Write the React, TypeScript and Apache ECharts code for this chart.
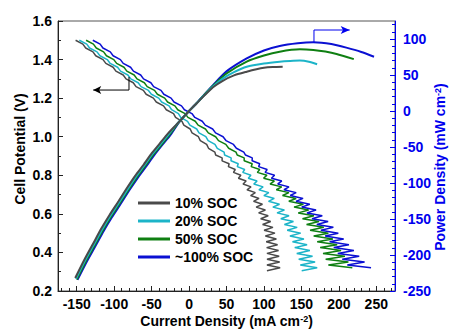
import React, { useEffect, useRef } from 'react';
import * as echarts from 'echarts';

const FONT = '"Liberation Sans", Arial, Helvetica, sans-serif';

const seriesNames = ['10% SOC', '20% SOC', '50% SOC', '~100% SOC'];
const colors = ['#4a4a4a', '#1cb4c8', '#0f7f12', '#0b10d2'];

const xTicks = [-150, -100, -50, 0, 50, 100, 150, 200, 250];
const xMinor = [-170, -160, -140, -130, -120, -110, -90, -80, -70, -60, -40, -30, -20, -10, 10, 20, 30, 40, 60, 70, 80, 90, 110, 120, 130, 140, 160, 170, 180, 190, 210, 220, 230, 240, 260, 270];
const yRightTicks = [-250, -200, -150, -100, -50, 0, 50, 100];
const yRightMinor = [-240, -230, -220, -210, -190, -180, -170, -160, -140, -130, -120, -110, -90, -80, -70, -60, -40, -30, -20, -10, 10, 20, 30, 40, 60, 70, 80, 90, 110, 120];

// Cell potential (V) vs current density (mA cm-2)
const pol10 = [[-151.5,1.50],[-141.8,1.48],[-138,1.46],[-128.3,1.44],[-124.6,1.42],[-114.9,1.40],[-111.1,1.38],[-101.4,1.36],[-97.7,1.34],[-87.9,1.32],[-84.2,1.30],[-74.5,1.28],[-70.8,1.26],[-61,1.24],[-57.3,1.22],[-47.6,1.20],[-43.8,1.18],[-34.1,1.16],[-30.4,1.14],[-20.7,1.12],[-18,1.10],[-9.5,1.08],[-7,1.06],[1.5,1.04],[4,1.02],[12.5,1.00],[15,0.98],[23.5,0.96],[26,0.94],[34.5,0.92],
[35.5,0.905],[44.2,0.89],[44.1,0.875],[53.5,0.86],[52.5,0.845],[61.7,0.83],[59.3,0.815],[69.2,0.80],[65.9,0.785],[76.2,0.77],[72.1,0.755],[82.7,0.74],[77.4,0.725],[88.5,0.71],[82.2,0.695],[93.4,0.68],[86.1,0.665],[98,0.65],[89.6,0.635],[101.9,0.62],[92.9,0.605],[105.7,0.59],[95.6,0.575],[109,0.56],[98.2,0.545],[112,0.53],[100.2,0.515],[114.7,0.50],[101.9,0.485],[116.6,0.47],[103,0.455],[118.2,0.44],[103.6,0.425],[119.5,0.41],[104,0.395],[120.3,0.38],[104.1,0.365],[121,0.35],[104,0.335],[121.6,0.32],[104,0.305]];

const pol20 = [[-146.5,1.50],[-136.6,1.48],[-132.8,1.46],[-122.9,1.44],[-119,1.42],[-109.2,1.40],[-105.3,1.38],[-95.4,1.36],[-91.5,1.34],[-81.7,1.32],[-77.8,1.30],[-67.9,1.28],[-64.1,1.26],[-54.2,1.24],[-50.3,1.22],[-40.5,1.20],[-36.6,1.18],[-26.7,1.16],[-23.3,1.14],[-14.2,1.12],[-11.1,1.10],[-2,1.08],[1.1,1.06],[10.2,1.04],[13.3,1.02],[22.4,1.00],[25.5,0.98],[34.6,0.96],[37.7,0.94],[46.8,0.92],
[47.5,0.905],[56.2,0.89],[56,0.875],[65.7,0.86],[64.4,0.845],[74.3,0.83],[71.7,0.815],[82.6,0.80],[79.1,0.785],[90.8,0.77],[86.4,0.755],[98.9,0.74],[93.3,0.725],[106.5,0.71],[99.9,0.695],[113.8,0.68],[106.1,0.665],[120.8,0.65],[111.9,0.635],[127.3,0.62],[117.5,0.605],[133.5,0.59],[122.5,0.575],[139.4,0.56],[127.3,0.545],[144.4,0.53],[131,0.515],[149.1,0.50],[134.7,0.485],[153.4,0.47],[138.1,0.455],[157.6,0.44],[141.1,0.425],[161.3,0.41],[143.8,0.395],[164.9,0.38],[146.4,0.365],[168.3,0.35],[148.5,0.335],[171.1,0.32],[150.4,0.305]];

const pol50 = [[-137.5,1.50],[-127.7,1.48],[-123.9,1.46],[-114.1,1.44],[-110.3,1.42],[-100.5,1.40],[-96.7,1.38],[-86.9,1.36],[-83.1,1.34],[-73.3,1.32],[-69.5,1.30],[-59.7,1.28],[-55.9,1.26],[-46.1,1.24],[-42.3,1.22],[-32.5,1.20],[-28.7,1.18],[-18.9,1.16],[-15.1,1.14],[-5.3,1.12],[-1.5,1.10],[8.3,1.08],[12.1,1.06],[21.9,1.04],[25.7,1.02],[35.5,1.00],[39.3,0.98],[49.1,0.96],[52.9,0.94],[62.7,0.92],
[64.3,0.905],[73.6,0.89],[73.6,0.875],[84.4,0.86],[82.9,0.845],[94.4,0.83],[91.2,0.815],[104,0.80],[99.6,0.785],[113.9,0.77],[108.2,0.755],[123.7,0.74],[116.5,0.725],[133.3,0.71],[124.8,0.695],[143,0.68],[133.2,0.665],[152.7,0.65],[140.2,0.635],[159.7,0.62],[145.8,0.605],[166.7,0.59],[151.5,0.575],[173.6,0.56],[156.9,0.545],[179.9,0.53],[161.6,0.515],[186,0.50],[166.4,0.485],[192.1,0.47],[171.1,0.455],[197.8,0.44],[175.1,0.425],[203,0.41],[178.9,0.395],[208.1,0.38],[182.4,0.365],[212.8,0.35],[186,0.335],[218,0.32]];

const pol100 = [[-128.5,1.50],[-118.7,1.48],[-115,1.46],[-105.2,1.44],[-101.4,1.42],[-91.7,1.40],[-87.9,1.38],[-78.1,1.36],[-74.3,1.34],[-64.6,1.32],[-60.8,1.30],[-51,1.28],[-47.3,1.26],[-37.5,1.24],[-33.7,1.22],[-24,1.20],[-20.1,1.18],[-10.1,1.16],[-6.2,1.14],[3.8,1.12],[7.7,1.10],[17.6,1.08],[21.6,1.06],[31.5,1.04],[35.4,1.02],[45.4,1.00],[49.3,0.98],[59.3,0.96],[63.2,0.94],[73.1,0.92],
[75.4,0.905],[84.4,0.89],[84.2,0.875],[94.4,0.86],[92.9,0.845],[104.3,0.83],[101.6,0.815],[114.2,0.80],[110,0.785],[123.8,0.77],[118.4,0.755],[133.4,0.74],[126.8,0.725],[143,0.71],[135.1,0.695],[152.2,0.68],[142.9,0.665],[161.2,0.65],[150.4,0.635],[169.6,0.62],[157.5,0.605],[177.9,0.59],[164.2,0.575],[185.7,0.56],[170.6,0.545],[192.7,0.53],[176,0.515],[199.3,0.50],[181.7,0.485],[206.5,0.47],[187.7,0.455],[213.5,0.44],[193.2,0.425],[220.1,0.41],[198.6,0.395],[227.2,0.38],[204.6,0.365],[234.4,0.35],[211.3,0.335],[243,0.32]];

// Power density (mW cm-2) vs current density (mA cm-2)
const pow10 = [[-152,-232],[-140,-207],[-128,-184],[-117,-163],[-106,-144],[-94,-125],[-83,-107],[-72,-90],[-61,-75],[-50,-59],[-39,-45],[-28,-31],[-17,-19],[-8,-9],[0,0],[10,10.5],[20,21],[32,33],[45,42],[60,49.5],[77,54.6],[90,58],[100,60],[112,61],[125,61.5]];
const pow20 = [[-151,-233],[-139,-208],[-127,-185.5],[-116,-164.5],[-105,-145.5],[-93,-126.5],[-82,-108.5],[-71,-91.5],[-60,-76],[-49,-60],[-38,-46],[-27,-32],[-16,-18],[-7,-7.7],[0,0],[10,10.6],[20,21.5],[32,34],[45,45],[60,54],[77,61.5],[100,66],[121,68.5],[135,69.5],[148,70],[160,68.5],[171,65]];
const pow50 = [[-150,-234],[-138,-209],[-126,-186.5],[-115,-165.5],[-104,-146.5],[-92,-127.5],[-81,-109.5],[-70,-92.5],[-59,-77],[-48,-61],[-37,-47],[-26,-33],[-15,-17.5],[-6,-6.8],[0,0],[10,10.7],[20,22],[32,35],[50,52],[77,68.5],[100,77],[121,82.4],[148,85.6],[166,84.7],[182,82.5],[197,79.2],[220,72]];
const pow100 = [[-149,-234.5],[-137,-210],[-125,-187.5],[-114,-166.5],[-103,-147.5],[-91,-128.5],[-80,-110.5],[-69,-93.5],[-58,-78],[-47,-62],[-36,-47.5],[-25,-33.5],[-14,-16.5],[-5,-5.6],[0,0],[10,10.8],[20,22.5],[32,36],[50,55],[77,73],[100,84],[121,90.3],[145,94],[166,95.4],[190,93],[210,88],[230,82],[247,75.4]];

// annotation arrows (data coordinates)
const leftArrow = [[-80.2, 1.31], [-80.2, 1.242], [-128, 1.242]];
const rightArrow = [[166.8, 94.4], [166.8, 112.5], [214.5, 112.5]];

const polData = [pol10, pol20, pol50, pol100];
const powData = [pow10, pow20, pow50, pow100];

const BLUE = '#0000ee';
const labelStyle = { color: '#000', fontWeight: 'bold' as const, fontSize: 14, fontFamily: FONT };

function buildOption() {
  const series: any[] = [];
  for (let i = 3; i >= 0; i--) {
    series.push({
      type: 'line', name: seriesNames[i], data: powData[i], xAxisIndex: 0, yAxisIndex: 1,
      symbol: 'none', showSymbol: false, smooth: 0.2,
      lineStyle: { color: colors[i], width: 2 }, itemStyle: { color: colors[i] }, z: 3 + (3 - i) * 0.1,
    });
  }
  for (let i = 0; i < 4; i++) {
    series.push({
      type: 'line', name: seriesNames[i], data: polData[i], xAxisIndex: 0, yAxisIndex: 0,
      symbol: 'none', showSymbol: false,
      lineStyle: { color: colors[i], width: 1.5 }, itemStyle: { color: colors[i] }, z: 2,
    });
  }
  series.push({
    type: 'line', xAxisIndex: 0, yAxisIndex: 0, silent: true, symbol: 'none', showSymbol: true,
    data: leftArrow.map((p, k) => k === leftArrow.length - 1
      ? { value: p, symbol: 'arrow', symbolSize: [6, 8], symbolRotate: 90 }
      : { value: p, symbol: 'none' }),
    lineStyle: { color: '#000', width: 1 }, itemStyle: { color: '#000' }, z: 5,
  });
  series.push({
    type: 'line', xAxisIndex: 0, yAxisIndex: 1, silent: true, symbol: 'none', showSymbol: true,
    data: rightArrow.map((p, k) => k === rightArrow.length - 1
      ? { value: p, symbol: 'arrow', symbolSize: [6, 9], symbolRotate: -90 }
      : { value: p, symbol: 'none' }),
    lineStyle: { color: BLUE, width: 1 }, itemStyle: { color: BLUE }, z: 5,
  });

  return {
    animation: false,
    grid: {
      left: 58, right: 56, top: 21, bottom: 40, show: true, borderColor: '#555', borderWidth: 1,
      containLabel: false, outerBoundsMode: 'none',
    },
    legend: {
      data: seriesNames, orient: 'vertical', left: 133, top: 191, itemWidth: 32, itemHeight: 3,
      itemGap: 4, icon: 'rect', selectedMode: false, textStyle: { ...labelStyle, fontSize: 14 },
    },
    xAxis: [
      {
        type: 'value', min: -175, max: 275, position: 'bottom',
        axisLine: { show: true, onZero: false, lineStyle: { color: '#222', width: 1 } },
        axisTick: { show: true, inside: true, length: 5, customValues: xTicks, lineStyle: { color: '#222' } },
        axisLabel: { customValues: xTicks, margin: 6, ...labelStyle },
        splitLine: { show: false },
        name: 'Current Density (mA cm{sup|-2})', nameLocation: 'middle', nameGap: 23, nameMoveOverlap: false,
        nameTextStyle: { ...labelStyle, rich: { sup: { ...labelStyle, fontSize: 9, verticalAlign: 'top' } } },
      },
      {
        type: 'value', min: -175, max: 275, position: 'bottom',
        axisLine: { show: false, onZero: false },
        axisTick: { show: true, inside: true, length: 3, customValues: xMinor, lineStyle: { color: '#222' } },
        axisLabel: { show: false }, splitLine: { show: false },
      },
    ],
    yAxis: [
      {
        type: 'value', position: 'left', min: 0.2, max: 1.6, interval: 0.2,
        axisLine: { show: true, onZero: false, lineStyle: { color: '#222', width: 1 } },
        axisTick: { show: true, inside: true, length: 5, lineStyle: { color: '#222' } },
        minorTick: { show: true, splitNumber: 2, length: 3, lineStyle: { color: '#222' } },
        axisLabel: { margin: 6, formatter: (v: number) => v.toFixed(1), ...labelStyle },
        splitLine: { show: false }, minorSplitLine: { show: false },
        name: 'Cell Potential (V)', nameLocation: 'middle', nameRotate: 90, nameGap: 31, nameMoveOverlap: false,
        nameTextStyle: { ...labelStyle, padding: [0, 0, 0, 14] },
      },
      {
        type: 'value', position: 'right', min: -250, max: 125,
        axisLine: { show: true, onZero: false, lineStyle: { color: BLUE, width: 1 } },
        axisTick: { show: true, inside: true, length: 5, customValues: yRightTicks, lineStyle: { color: BLUE } },
        axisLabel: { customValues: yRightTicks, margin: 8, ...labelStyle, color: BLUE },
        splitLine: { show: false },
        name: 'Power Density (mW cm{sup|-2})', nameLocation: 'middle', nameRotate: 90, nameGap: 38, nameMoveOverlap: false,
        nameTextStyle: {
          ...labelStyle, color: BLUE, padding: [0, 22, 0, 0],
          rich: { sup: { ...labelStyle, color: BLUE, fontSize: 9, verticalAlign: 'top' } },
        },
      },
      {
        type: 'value', position: 'right', min: -250, max: 125,
        axisLine: { show: false, onZero: false },
        axisTick: { show: true, inside: true, length: 3, customValues: yRightMinor, lineStyle: { color: BLUE } },
        axisLabel: { show: false }, splitLine: { show: false },
      },
    ],
    series,
  };
}

export default function App() {
  const ref = useRef<HTMLDivElement>(null);
  useEffect(() => {
    const chart = echarts.init(ref.current!, null, { renderer: 'svg' });
    chart.setOption(buildOption() as any);
    return () => chart.dispose();
  }, []);
  return <div ref={ref} style={{ position: 'fixed', left: 0, top: 0, width: 451, height: 331, background: '#fff' }} />;
}
